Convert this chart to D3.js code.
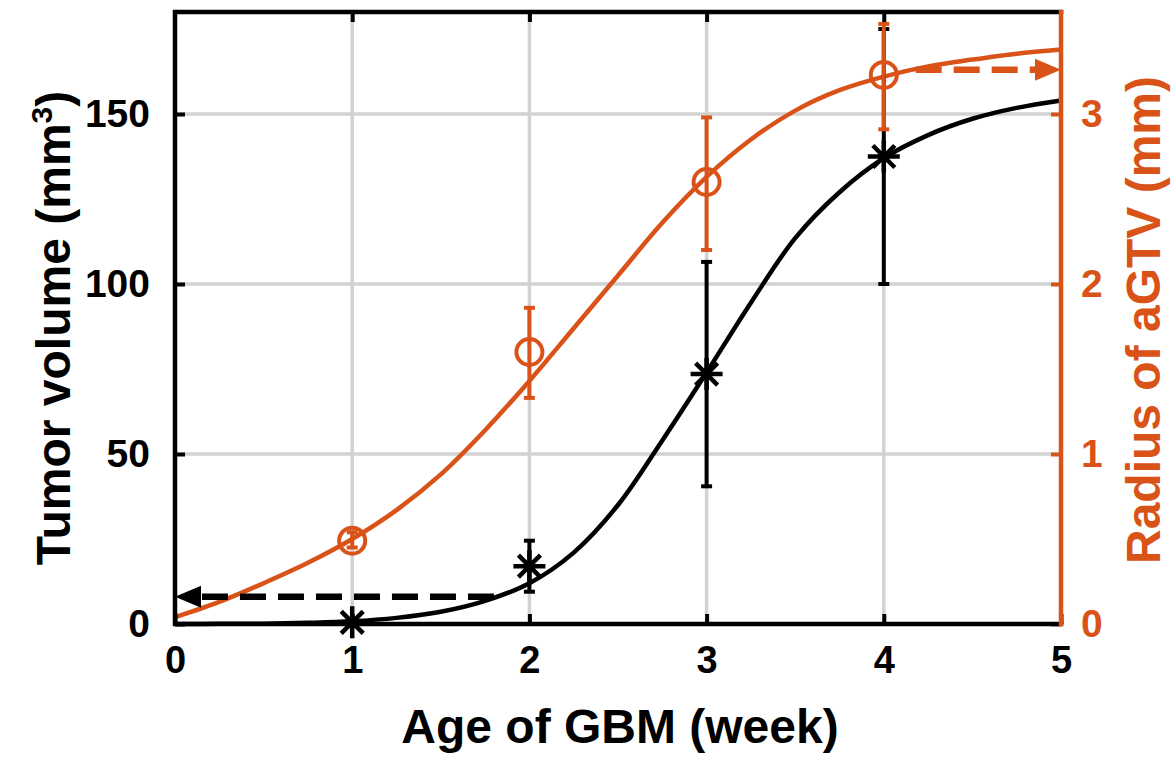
<!DOCTYPE html>
<html>
<head>
<meta charset="utf-8">
<script src="https://d3js.org/d3.v7.min.js"></script>
<style>
body { margin:0; background:#fff; }
text { font-family: "Liberation Sans", Arial, sans-serif; font-weight: bold; }
.grid line { stroke:#d2d2d2; stroke-width:3.5px; }
</style>
</head>
<body>
<script>
// data
var weeks = [1, 2, 3, 4];
var volume = [0.5, 17, 73.5, 137.5];
var volumeLo = [0.5, 9.5, 40.5, 100];
var volumeHi = [0.5, 24.5, 106.5, 175];
var radius = [0.49, 1.60, 2.60, 3.23];
var radiusLo = [0.45, 1.33, 2.20, 2.91];
var radiusHi = [0.54, 1.86, 2.98, 3.53];

// fitted curves
var fitX = [0, 0.25, 0.5, 0.75, 1, 1.25, 1.5, 1.75, 2, 2.25, 2.5, 2.75, 3, 3.25, 3.5, 3.75, 4, 4.25, 4.5, 4.75, 5];
var volumeFit = [0, 0.05, 0.1, 0.35, 0.8, 1.8, 3.6, 6.8, 12, 21, 35, 54, 74, 94.5, 113.5, 127, 137, 143.8, 148.6, 151.8, 154];
var radiusFit = [0.04, 0.13, 0.24, 0.36, 0.5, 0.67, 0.88, 1.14, 1.43, 1.74, 2.05, 2.36, 2.63, 2.85, 3.02, 3.14, 3.22, 3.28, 3.32, 3.355, 3.38];

var xTicks = [0, 1, 2, 3, 4, 5];
var leftTicks = [0, 50, 100, 150];
var rightTicks = [0, 1, 2, 3];

// dashed arrows: [from, to] in weeks, level on its own axis
var volArrow = {x: [1.8, 0], y: 8};
var radArrow = {x: [4.18, 5], y: 3.26};

var W = 1173, H = 758;
var orange = "#d95319";
var L = 175, R = 1061, T = 12, B = 624;

var svg = d3.select("body").append("svg").attr("width", W).attr("height", H);

var x = d3.scaleLinear().domain([0, 5]).range([L, R]);
var yL = d3.scaleLinear().domain([0, 180]).range([B, T]);
var yR = d3.scaleLinear().domain([0, 3.6]).range([B, T]);

// grid
var grid = svg.append("g").attr("class", "grid");
grid.selectAll(".gx").data(xTicks.slice(1, -1)).enter().append("line")
  .attr("x1", d => x(d)).attr("x2", d => x(d)).attr("y1", T).attr("y2", B);
grid.selectAll(".gy").data(leftTicks.slice(1)).enter().append("line")
  .attr("x1", L).attr("x2", R).attr("y1", d => yL(d)).attr("y2", d => yL(d));

// curves
var lineV = d3.line().x((d, i) => x(fitX[i])).y(d => yL(d)).curve(d3.curveCatmullRom);
var lineR = d3.line().x((d, i) => x(fitX[i])).y(d => yR(d)).curve(d3.curveCatmullRom);
svg.append("path").attr("d", lineV(volumeFit)).attr("fill", "none").attr("stroke", "#000").attr("stroke-width", 4.5);
svg.append("path").attr("d", lineR(radiusFit)).attr("fill", "none").attr("stroke", orange).attr("stroke-width", 4.5);

// error bars
function errorBars(lo, hi, y, col) {
  var g = svg.append("g").attr("stroke", col).attr("stroke-width", 4);
  weeks.forEach(function(w, i) {
    g.append("line").attr("x1", x(w)).attr("x2", x(w)).attr("y1", y(lo[i])).attr("y2", y(hi[i]));
    [lo[i], hi[i]].forEach(function(v) {
      g.append("line").attr("x1", x(w) - 5.5).attr("x2", x(w) + 5.5).attr("y1", y(v)).attr("y2", y(v));
    });
  });
}
errorBars(volumeLo, volumeHi, yL, "#000");
errorBars(radiusLo, radiusHi, yR, orange);

// asterisk markers
var ast = svg.append("g").attr("stroke", "#000").attr("stroke-width", 4.5);
weeks.forEach(function(w, i) {
  var cx = x(w), cy = yL(volume[i]), s = 16, d = 11;
  ast.append("path").attr("d",
    "M" + (cx - s) + "," + cy + "H" + (cx + s) +
    "M" + cx + "," + (cy - s) + "V" + (cy + s) +
    "M" + (cx - d) + "," + (cy - d) + "L" + (cx + d) + "," + (cy + d) +
    "M" + (cx - d) + "," + (cy + d) + "L" + (cx + d) + "," + (cy - d));
});

// circle markers
svg.append("g").selectAll("circle").data(radius).enter().append("circle")
  .attr("cx", (d, i) => x(weeks[i])).attr("cy", d => yR(d)).attr("r", 13)
  .attr("fill", "none").attr("stroke", orange).attr("stroke-width", 4);

// dashed arrows
function arrow(a, y, col) {
  var x0 = x(a.x[0]), x1 = x(a.x[1]), yy = y(a.y), dir = Math.sign(x1 - x0);
  svg.append("line").attr("x1", x0).attr("x2", x1 - dir * 20).attr("y1", yy).attr("y2", yy)
    .attr("stroke", col).attr("stroke-width", 6.5).attr("stroke-dasharray", "26,12");
  svg.append("path").attr("fill", col)
    .attr("d", "M" + x1 + "," + yy + "L" + (x1 - dir * 26) + "," + (yy - 11) + "L" + (x1 - dir * 26) + "," + (yy + 11) + "Z");
}
arrow(volArrow, yL, "#000");
arrow(radArrow, yR, orange);

// axes
function styleAxis(g, col, size) {
  g.select(".domain").remove();
  g.selectAll(".tick line").attr("stroke", col).attr("stroke-width", 4);
  g.selectAll(".tick text").attr("fill", col).style("font-size", size + "px");
}
svg.append("g").attr("transform", "translate(0," + B + ")")
  .call(d3.axisBottom(x).tickValues(xTicks).tickSize(-10).tickPadding(22).tickFormat(d3.format("d")))
  .call(g => styleAxis(g, "#000", 38));
svg.append("g").attr("transform", "translate(0," + T + ")")
  .call(d3.axisTop(x).tickValues(xTicks.slice(1, -1)).tickSize(-10).tickFormat(""))
  .call(g => styleAxis(g, "#000", 38));
svg.append("g").attr("transform", "translate(" + L + ",0)")
  .call(d3.axisLeft(yL).tickValues(leftTicks).tickSize(-10).tickPadding(25))
  .call(g => styleAxis(g, "#000", 39));
svg.append("g").attr("transform", "translate(" + R + ",0)")
  .call(d3.axisRight(yR).tickValues(rightTicks).tickSize(-10).tickPadding(20).tickFormat(d3.format("d")))
  .call(g => styleAxis(g, orange, 39));

// frame
svg.append("path").attr("d", "M" + R + "," + T + "H" + L + "V" + B + "H" + R)
  .attr("fill", "none").attr("stroke", "#000").attr("stroke-width", 4.5).attr("stroke-linecap", "square");
svg.append("line").attr("x1", R).attr("x2", R).attr("y1", T - 2).attr("y2", B + 2)
  .attr("stroke", orange).attr("stroke-width", 4.5);

// titles
svg.append("text").attr("x", (L + R) / 2 + 2).attr("y", 743).attr("text-anchor", "middle")
  .style("font-size", "48px").text("Age of GBM (week)");
var lt = svg.append("text").attr("transform", "translate(70," + ((T + B) / 2 + 10) + ") rotate(-90)")
  .attr("text-anchor", "middle").style("font-size", "48px");
lt.append("tspan").text("Tumor volume (mm");
lt.append("tspan").attr("dy", -18).style("font-size", "30px").text("3");
lt.append("tspan").attr("dy", 18).text(")");
svg.append("text").attr("transform", "translate(1160," + ((T + B) / 2 + 2) + ") rotate(-90)")
  .attr("text-anchor", "middle").attr("fill", orange).style("font-size", "48px").text("Radius of aGTV (mm)");
</script>
</body>
</html>
